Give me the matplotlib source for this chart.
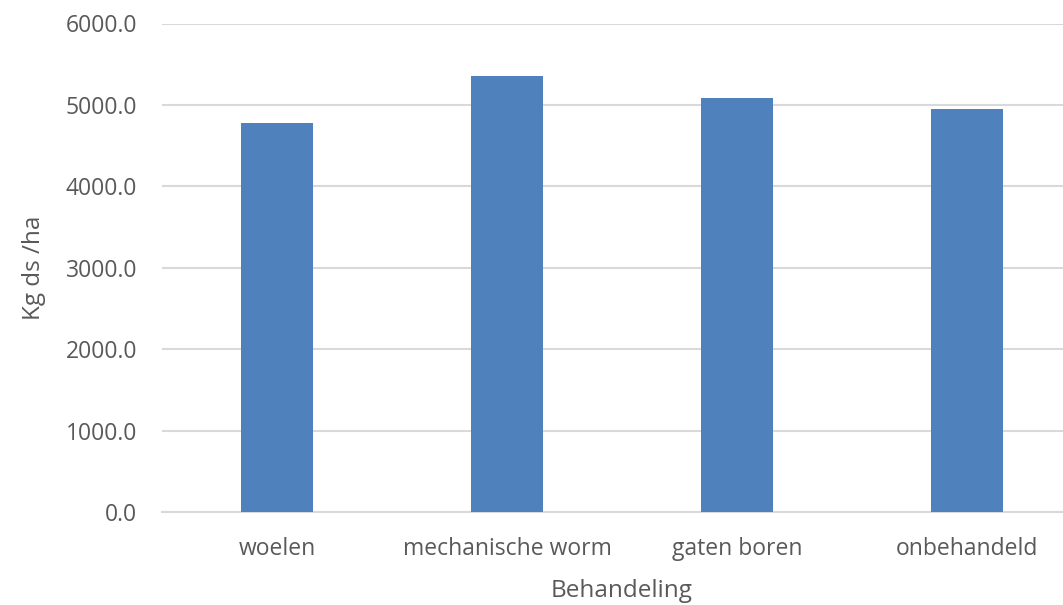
import matplotlib.pyplot as plt

categories = ["woelen", "mechanische worm", "gaten boren", "onbehandeld"]
yield_kg = [4775, 5355, 5090, 4947]
yticks = [0, 1000, 2000, 3000, 4000, 5000, 6000]

plt.rcParams['font.family'] = ['Open Sans', 'DejaVu Sans']
grey = '#595959'

fig = plt.figure(figsize=(10.63, 6.05), dpi=100)
ax = fig.add_axes([162 / 1063, 93 / 605, 920 / 1063, 488.5 / 605])

x = range(len(categories))
ax.bar(x, yield_kg, width=0.31, color='#4F81BD', zorder=3)

ax.set_xlim(-0.5, len(categories) - 0.5)
ax.set_ylim(0, 6000)
ax.set_yticks(yticks)
ax.set_yticklabels([f"{v:.1f}" for v in yticks])
ax.set_xticks(list(x))
ax.set_xticklabels(categories)

ax.yaxis.grid(color='#D9D9D9', linewidth=1.5, zorder=0)
for s in ['top', 'right', 'left']:
    ax.spines[s].set_visible(False)
ax.spines['bottom'].set_color('#D9D9D9')
ax.spines['bottom'].set_linewidth(1.5)

ax.tick_params(axis='both', length=0, labelcolor=grey, labelsize=16.5)
ax.tick_params(axis='y', pad=18)
ax.tick_params(axis='x', pad=18)

ax.set_ylabel("Kg ds /ha", color=grey, fontsize=17.5, labelpad=14)
ax.set_xlabel("Behandeling", color=grey, fontsize=17.5, labelpad=13)

fig.savefig("out.png", dpi=100)
